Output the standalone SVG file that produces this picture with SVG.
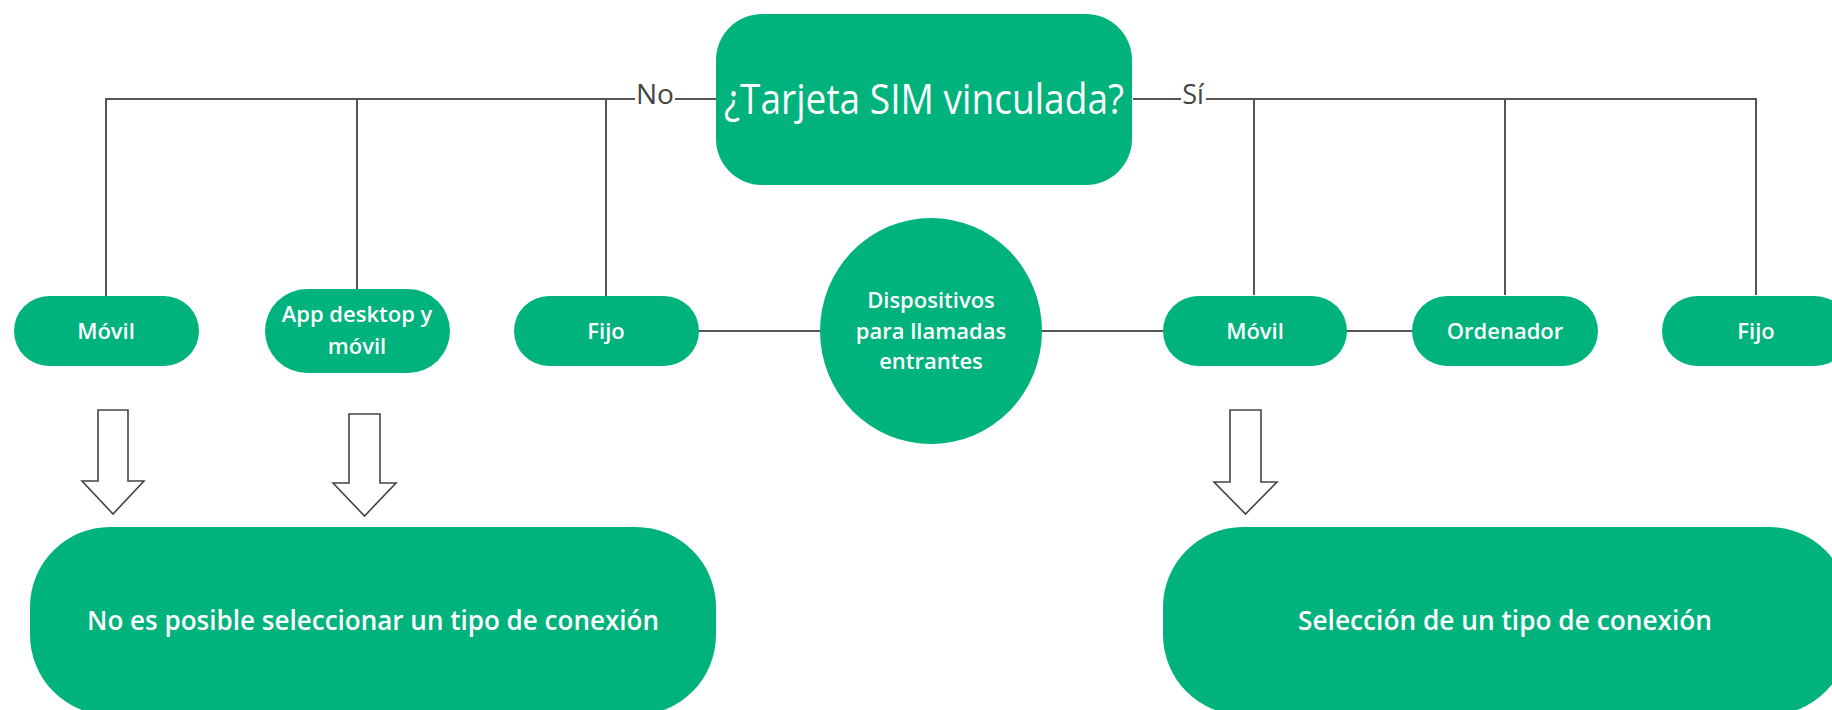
<svg xmlns="http://www.w3.org/2000/svg" width="1832" height="710" viewBox="0 0 1832 710">
<style>
.n{fill:#00B27B}
.t{fill:#FFFFFF;font-family:"Open Sans","Liberation Sans",sans-serif;font-weight:600;font-size:22px;text-anchor:middle}
.big{font-weight:400;font-size:42px}
.res{font-size:27px}
.lbl{fill:#444;font-family:"Open Sans","Liberation Sans",sans-serif;font-size:27px;text-anchor:middle}
.c{stroke:#555;stroke-width:2;fill:none}
.ar{fill:#FFFFFF;stroke:#444;stroke-width:1.6}
</style>
<rect width="1832" height="710" fill="#FFFFFF"/>
<g id="connectors">
<path class="c" d="M106,296 V99 H635 M675,99 H716 M357,289 V99 M606,296 V99"/>
<path class="c" d="M1133,99 H1181 M1206,99 H1756 V295 M1254,99 V295 M1505,99 V295"/>
<path class="c" d="M699,331 H820 M1042,331 H1163 M1347,331 H1412"/>
<text class="lbl" x="655" y="104" textLength="38" lengthAdjust="spacingAndGlyphs">No</text>
<text class="lbl" x="1193" y="104">Sí</text>
<path class="ar" d="M98,410 H128 V481 H144 L113,514 L82,481 H98 Z"/>
<path class="ar" d="M349,414 H380 V483 H396 L364.5,516 L333,483 H349 Z"/>
<path class="ar" d="M1230,410 H1261 V482 H1277 L1245.5,514 L1214,482 H1230 Z"/>
</g>
<g id="node-sim">
<rect class="n" x="716" y="14" width="416" height="171" rx="46"/>
<text class="t big" x="924" y="114" textLength="400" lengthAdjust="spacingAndGlyphs">¿Tarjeta SIM vinculada?</text>
</g>
<g id="node-movil-no">
<rect class="n" x="14" y="296" width="185" height="70" rx="35"/>
<text class="t" x="106" y="339">Móvil</text>
</g>
<g id="node-app">
<rect class="n" x="265" y="289" width="185" height="84" rx="42"/>
<text class="t" x="357" y="322">App desktop y</text>
<text class="t" x="357" y="354">móvil</text>
</g>
<g id="node-fijo-no">
<rect class="n" x="514" y="296" width="185" height="70" rx="35"/>
<text class="t" x="606" y="339">Fijo</text>
</g>
<g id="node-dispositivos">
<ellipse class="n" cx="931" cy="331" rx="111" ry="113"/>
<text class="t" x="931" y="308">Dispositivos</text>
<text class="t" x="931" y="339">para llamadas</text>
<text class="t" x="931" y="369">entrantes</text>
</g>
<g id="node-movil-si">
<rect class="n" x="1163" y="296" width="184" height="70" rx="35"/>
<text class="t" x="1255" y="339">Móvil</text>
</g>
<g id="node-ordenador">
<rect class="n" x="1412" y="296" width="186" height="70" rx="35"/>
<text class="t" x="1505" y="339">Ordenador</text>
</g>
<g id="node-fijo-si">
<rect class="n" x="1662" y="296" width="188" height="70" rx="35"/>
<text class="t" x="1756" y="339">Fijo</text>
</g>
<g id="node-no-posible">
<rect class="n" x="30" y="527" width="686" height="188" rx="80"/>
<text class="t res" x="373" y="630" textLength="572" lengthAdjust="spacingAndGlyphs">No es posible seleccionar un tipo de conexión</text>
</g>
<g id="node-seleccion">
<rect class="n" x="1163" y="527" width="686" height="188" rx="80"/>
<text class="t res" x="1505" y="630" textLength="414" lengthAdjust="spacingAndGlyphs">Selección de un tipo de conexión</text>
</g>
</svg>
